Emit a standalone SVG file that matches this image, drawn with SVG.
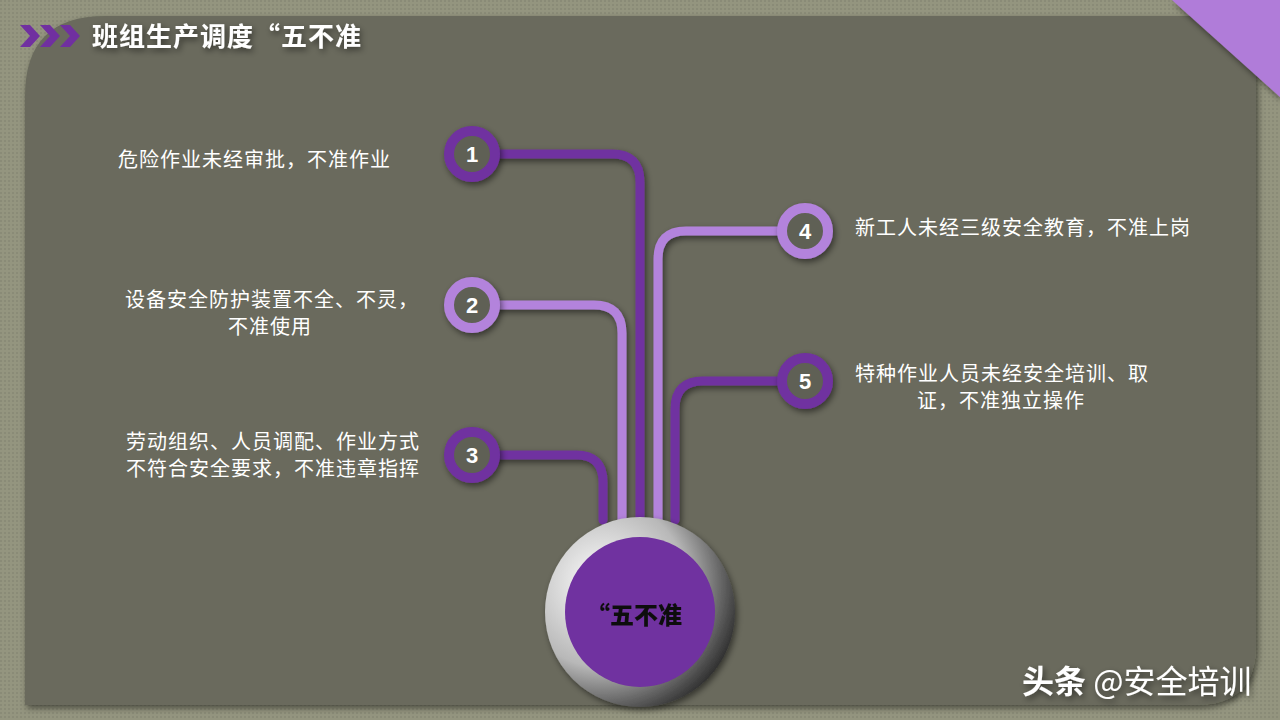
<svg xmlns="http://www.w3.org/2000/svg" width="1280" height="720" viewBox="0 0 1280 720">
<defs>
<style>
.lbl{font-family:"Noto Sans CJK SC","Liberation Sans",sans-serif;font-size:20px;letter-spacing:1px;fill:#ffffff}
.num{font-family:"Liberation Sans",sans-serif;font-weight:bold;font-size:22px;fill:#ffffff;text-anchor:middle}
.dk{stroke:#7030a0}
.lt{stroke:#b383dc}
.wire{fill:none;stroke-width:9;stroke-linecap:round}
</style>
<filter id="sh" x="-30%" y="-30%" width="160%" height="160%"><feDropShadow dx="2" dy="3" stdDeviation="3" flood-color="#000" flood-opacity="0.5"/></filter>
<radialGradient id="ring" cx="0.3" cy="0.35" r="0.8"><stop offset="0" stop-color="#ffffff"/><stop offset="0.55" stop-color="#b8b8b8"/><stop offset="1" stop-color="#1a1a1a"/></radialGradient>
<pattern id="tex" width="4" height="4" patternUnits="userSpaceOnUse"><rect width="4" height="4" fill="#94957f"/><rect width="2" height="2" fill="#8a8b77"/></pattern>
</defs>
<rect width="1280" height="720" fill="url(#tex)"/>
<path d="M105 16 H1256 V645 Q1256 705 1196 705 H25 V96 Q25 16 105 16 Z" fill="#6a6b5d" filter="url(#sh)"/>
<polygon points="1172,0 1280,0 1280,97" fill="#b07bd9" filter="url(#sh)"/>
<g id="title">
<polygon points="20,25 30,25 40,36 30,47 20,47 30,36" fill="#7030a0"/>
<polygon points="40,25 50,25 60,36 50,47 40,47 50,36" fill="#7030a0"/>
<polygon points="60,25 70,25 80,36 70,47 60,47 70,36" fill="#7030a0"/>
<text x="92" y="46" style="font-family:'Noto Sans CJK SC',sans-serif;font-weight:bold;font-size:26px;letter-spacing:1px;fill:#fff" filter="url(#sh)">班组生产调度“五不准</text>
</g>
<g id="connectors" filter="url(#sh)">
<path class="wire dk" d="M495 154 H612 Q640 154 640 182 V520"/>
<path class="wire lt" d="M495 305 H594 Q622 305 622 333 V520"/>
<path class="wire dk" d="M495 455 H576 Q603 455 603 482 V520"/>
<path class="wire lt" d="M782 231 H686 Q658 231 658 259 V520"/>
<path class="wire dk" d="M782 381 H703 Q675 381 675 409 V520"/>
</g>
<g id="center" filter="url(#sh)">
<circle cx="640" cy="612" r="95" fill="url(#ring)"/>
<circle cx="640" cy="612" r="75" fill="#7030a0"/>
<text x="634" y="624" style="font-family:'Noto Sans CJK SC',sans-serif;font-weight:900;font-size:24px;fill:#111;text-anchor:middle">“五不准</text>
</g>
<g id="n1"><circle cx="472" cy="154" r="23" fill="#5f6054" stroke="#7030a0" stroke-width="10" filter="url(#sh)"/><text class="num" x="472" y="162">1</text><text class="lbl" x="118" y="167">危险作业未经审批，不准作业</text></g>
<g id="n2"><circle cx="472" cy="305" r="23" fill="#5f6054" stroke="#b383dc" stroke-width="10" filter="url(#sh)"/><text class="num" x="472" y="313">2</text><text class="lbl" x="125" y="307">设备安全防护装置不全、不灵，</text><text class="lbl" x="228" y="334">不准使用</text></g>
<g id="n3"><circle cx="472" cy="455" r="23" fill="#5f6054" stroke="#7030a0" stroke-width="10" filter="url(#sh)"/><text class="num" x="472" y="463">3</text><text class="lbl" x="126" y="449">劳动组织、人员调配、作业方式</text><text class="lbl" x="126" y="476">不符合安全要求，不准违章指挥</text></g>
<g id="n4"><circle cx="805" cy="231" r="23" fill="#5f6054" stroke="#b383dc" stroke-width="10" filter="url(#sh)"/><text class="num" x="805" y="239">4</text><text class="lbl" x="855" y="235">新工人未经三级安全教育，不准上岗</text></g>
<g id="n5"><circle cx="805" cy="381" r="23" fill="#5f6054" stroke="#7030a0" stroke-width="10" filter="url(#sh)"/><text class="num" x="805" y="389">5</text><text class="lbl" x="855" y="381">特种作业人员未经安全培训、取</text><text class="lbl" x="917" y="408">证，不准独立操作</text></g>
<text x="1022" y="693" style="font-family:'Noto Sans CJK SC',sans-serif;font-size:32px;fill:#fff" filter="url(#sh)"><tspan font-weight="bold">头条</tspan> @安全培训</text>
</svg>
